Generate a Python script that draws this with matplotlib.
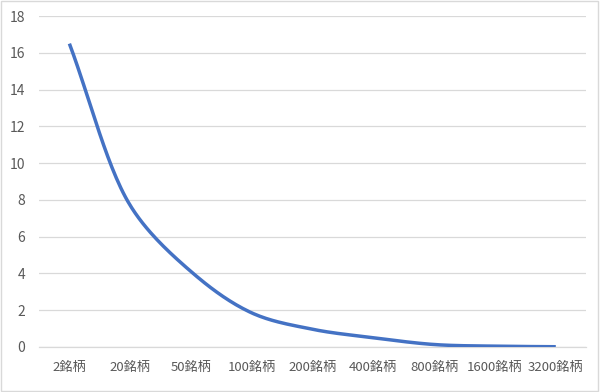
import matplotlib
matplotlib.use('Agg')
import matplotlib.pyplot as plt
import numpy as np

plt.rcParams['font.family'] = ['Noto Sans CJK JP', 'DejaVu Sans']

labels = ['2銘柄', '20銘柄', '50銘柄', '100銘柄', '200銘柄', '400銘柄', '800銘柄', '1600銘柄', '3200銘柄']
values = [16.5, 7.7, 4.1, 1.85, 0.96, 0.5, 0.13, 0.04, 0.01]
yticks = [0, 2, 4, 6, 8, 10, 12, 14, 16, 18]

def smooth(x, y, sx=60.8, sy=18.4, n=30):
    # smoothed line through the points (bezier segments, worked out in screen units)
    P = np.column_stack([np.asarray(x, float) * sx, np.asarray(y, float) * sy])
    d = np.linalg.norm(np.diff(P, axis=0), axis=1)
    u = np.diff(P, axis=0) / d[:, None]
    T = np.zeros_like(P)
    T[0], T[-1] = u[0], u[-1]
    for i in range(1, len(P) - 1):
        bessel = d[i] * u[i-1] + d[i-1] * u[i]
        bessel /= np.linalg.norm(bessel)
        cr = (P[i+1] - P[i-1]) / np.linalg.norm(P[i+1] - P[i-1])
        v = bessel + cr
        T[i] = v / np.linalg.norm(v)
    t = np.linspace(0, 1, n)[:, None]
    out = []
    for i in range(len(P) - 1):
        p1, p2 = P[i], P[i+1]
        h1 = d[i] / 3 if i == 0 else min(d[i], 1.5 * d[i-1]) / 3
        h2 = d[i] / 3 if i == len(d) - 1 else min(d[i], 1.5 * d[i+1]) / 3
        c1 = p1 + T[i] * h1
        c2 = p2 - T[i+1] * h2
        out.append((1-t)**3 * p1 + 3*(1-t)**2*t * c1 + 3*(1-t)*t**2 * c2 + t**3 * p2)
    B = np.vstack(out)
    return B[:, 0] / sx, B[:, 1] / sy

fig = plt.figure(figsize=(6.0, 3.92), dpi=100)
ax = fig.add_axes([0.065, 0.115, 0.912, 0.844])

xpos = np.arange(len(labels))
lx, ly = smooth(xpos, values)
ax.plot(lx, ly, color='#4472C4', lw=2.5, solid_capstyle='butt', zorder=3)

ax.set_xlim(-0.5, len(labels) - 0.5)
ax.set_ylim(0, 18)
ax.set_yticks(yticks)
ax.set_xticks(xpos)
ax.set_xticklabels(labels)
ax.tick_params(axis='both', length=0, labelcolor='#595959')
ax.tick_params(axis='x', pad=10, labelsize=9.5)
ax.tick_params(axis='y', pad=10, labelsize=10)
ax.grid(axis='y', color='#D9D9D9', lw=0.9)
ax.set_axisbelow(True)
for s in ax.spines.values():
    s.set_visible(False)
ax.spines['bottom'].set_visible(True)
ax.spines['bottom'].set_color('#D9D9D9')
ax.spines['bottom'].set_linewidth(0.9)

# chart outer border
fig.patches.append(plt.Rectangle((0.002, 0.003), 0.995, 0.994, transform=fig.transFigure,
                                 fill=False, ec='#D9D9D9', lw=1.0))

fig.savefig('out.png', dpi=100)
